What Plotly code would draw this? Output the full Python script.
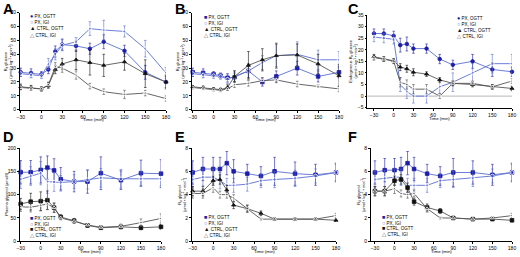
import plotly.graph_objects as go

W, H = 520, 257
time_min = [-30, -15, 0, 10, 20, 30, 50, 70, 90, 120, 150, 180]
x_ticks = [-30, 0, 30, 60, 90, 120, 150, 180]
series_names = ["PX, OGTT", "PX, IGI", "CTRL, OGTT", "CTRL, IGI"]

# Panel A: Ra glucose
a_px_ogtt = [27, 26.5, 25.5, 29, 42, 47, 46, 44, 49, 42.5, 27, 20]
a_px_ogtt_err = [3, 3, 2, 3, 4, 4, 4, 4, 5, 4, 5, 4]
a_px_igi = [26, 25, 24.5, 33, 40, 46.5, 49, 58.5, 57.5, 56.5, 44, 26.5]
a_px_igi_err = [2, 2, 2, 4, 4, 4, 3, 5, 7, 4, 6, 4]
a_ctrl_ogtt = [16.5, 16, 15, 17.5, 29, 33, 36, 34, 32, 34.5, 26, 20]
a_ctrl_ogtt_err = [2, 1.5, 1.5, 2, 3, 4, 7, 9, 8, 6, 10, 5]
a_ctrl_igi = [16, 15.5, 15, 18, 31, 30, 25, 17, 13, 11, 12, 8]
a_ctrl_igi_err = [1.5, 1.5, 1.5, 2, 3, 3, 3, 2, 2, 3, 2, 2]

# Panel B: Rd glucose
b_px_ogtt = [27, 26.5, 25.5, 24.5, 23, 23.5, 28, 20, 24, 30, 24, 27]
b_px_ogtt_err = [3, 3, 2, 2, 3, 3, 5, 3, 4, 5, 4, 4]
b_px_igi = [26, 25, 24.5, 24, 22, 24, 28, 34, 39, 40, 36, 36]
b_px_igi_err = [2, 2, 2, 2, 3, 4, 5, 5, 8, 9, 7, 6]
b_ctrl_ogtt = [16.5, 16, 15, 14.5, 16, 24, 32, 36, 39, 39.5, 33, 24.5]
b_ctrl_ogtt_err = [1, 1, 1, 1, 2, 4, 10, 8, 9, 8, 7, 8]
b_ctrl_igi = [16, 15.5, 14.5, 14, 15, 18, 19, 21, 21.5, 18.5, 17, 15]
b_ctrl_igi_err = [1, 1, 1, 1, 1, 2, 2, 2, 2, 2, 1, 2]

# Panel C: Endogenous Ra glucose
c_px_ogtt = [27, 27, 26, 22, 22.5, 20.5, 20.5, 16, 13.5, 15, 11.5, 10.5]
c_px_ogtt_err = [2, 2, 2, 3, 3, 2, 2, 2, 2, 3, 3, 2]
c_px_igi = [25.5, 25, 24.5, 5, 2, 0, 0, 4, 6, 10, 14, 14]
c_px_igi_err = [2, 2, 2, 3, 3, 3, 3, 3, 4, 4, 4, 4]
c_ctrl_ogtt = [17, 16, 15.2, 12.5, 11.8, 10.3, 9.5, 7, 5.5, 5, 4, 3.3]
c_ctrl_ogtt_err = [1, 1, 1, 1.5, 1.5, 1.5, 1, 1, 1, 1, 1, 1]
c_ctrl_igi = [16.5, 16, 15, 6, 5, 3, 3, 0, 5.5, 5.5, 4, 6.5]
c_ctrl_igi_err = [1, 1, 1, 2, 2, 2, 2, 1, 1, 1, 1, 1]

# Panel D: Plasma glycerol
d_px_ogtt = [148, 148, 153, 158, 152, 133, 128, 128, 146, 131, 146, 145]
d_px_ogtt_err = [25, 25, 28, 25, 25, 25, 22, 25, 35, 20, 28, 30]
d_px_igi = [133, 140, 146, 128, 127, 126, 128, 132, 136, 134, 134, 134]
d_px_igi_err = [20, 20, 25, 25, 20, 15, 15, 20, 20, 20, 15, 15]
d_ctrl_ogtt = [80, 85, 86, 88, 72, 52, 44, 34, 29, 31, 29, 31]
d_ctrl_ogtt_err = [12, 18, 20, 20, 10, 5, 5, 4, 3, 4, 4, 5]
d_ctrl_igi = [74, 73, 77, 80, 72, 50, 43, 35, 30, 32, 40, 49]
d_ctrl_igi_err = [10, 10, 12, 12, 10, 4, 4, 3, 3, 5, 8, 10]

# Panel E: Ra glycerol
e_px_ogtt = [5.9, 6.2, 6.2, 6.2, 6.7, 6.0, 5.8, 5.6, 6.0, 5.8, 5.7, 5.9]
e_px_ogtt_err = [1, 1, 1, 1, 1, 1, 0.8, 0.8, 1.2, 1, 0.9, 0.8]
e_px_igi = [5.3, 5.5, 5.5, 5.2, 4.8, 4.8, 4.9, 5.2, 5.3, 5.4, 5.6, 5.9]
e_px_igi_err = [0.7, 0.7, 0.7, 0.7, 0.6, 0.6, 0.6, 0.6, 0.7, 0.7, 0.6, 0.7]
e_ctrl_ogtt = [4.3, 4.3, 5.2, 5.3, 4.4, 3.1, 2.8, 2.4, 1.9, 1.9, 1.9, 1.8]
e_ctrl_ogtt_err = [0.4, 0.4, 0.4, 0.4, 0.4, 0.3, 0.3, 0.2, 0.1, 0.1, 0.1, 0.1]
e_ctrl_igi = [4.1, 4.1, 4.6, 4.0, 4.0, 3.7, 2.8, 1.9, 1.9, 1.9, 1.9, 2.2]
e_ctrl_igi_err = [0.4, 0.4, 0.4, 0.3, 0.3, 0.3, 0.3, 0.1, 0.1, 0.1, 0.1, 0.2]

# Panel F: Rd glycerol
f_px_ogtt = [5.9, 6.1, 6.1, 6.2, 6.7, 6.2, 5.8, 5.6, 5.9, 5.9, 5.7, 5.9]
f_px_ogtt_err = [1, 1, 1, 1, 1, 1, 0.8, 0.8, 1.2, 1, 0.9, 0.8]
f_px_igi = [5.3, 5.4, 5.5, 5.5, 4.8, 4.8, 4.8, 5.2, 5.3, 5.4, 5.6, 5.9]
f_px_igi_err = [0.7, 0.7, 0.7, 0.7, 0.6, 0.6, 0.6, 0.6, 0.7, 0.7, 0.6, 0.7]
f_ctrl_ogtt = [4.3, 4.3, 5.2, 5.3, 4.6, 3.4, 2.9, 2.6, 2.0, 1.9, 1.9, 1.8]
f_ctrl_ogtt_err = [0.4, 0.4, 0.4, 0.4, 0.4, 0.3, 0.3, 0.2, 0.1, 0.1, 0.1, 0.1]
f_ctrl_igi = [4.3, 4.3, 4.5, 4.1, 4.0, 4.1, 2.8, 2.0, 2.0, 1.9, 2.0, 2.2]
f_ctrl_igi_err = [0.4, 0.4, 0.4, 0.3, 0.3, 0.3, 0.3, 0.1, 0.1, 0.1, 0.1, 0.2]

UNIT = "(µmol • kg<sup>-1</sup> • min<sup>-1</sup>)"

BLUE = "#1c1ca8"
LBLUE = "#5b6fd3"
BLACK = "#111111"
GRAY = "#555555"
styles = [
    dict(color=BLUE, line=LBLUE, open=False),
    dict(color=LBLUE, line=LBLUE, open=True),
    dict(color=BLACK, line=GRAY, open=False),
    dict(color=GRAY, line=GRAY, open=True),
]

# px: pixel positions of the axis domain; xr: x range start; py: y pixel (bottom, top)
panels = [
    dict(letter="A", lpos=(1.5, 0), data=[(a_px_ogtt, a_px_ogtt_err), (a_px_igi, a_px_igi_err), (a_ctrl_ogtt, a_ctrl_ogtt_err), (a_ctrl_igi, a_ctrl_igi_err)],
         yrange=[0, 70], ydtick=10, px=(20, 166), xr=-31, py=(109.7, 12.7), ytitle="R<sub>a</sub> glucose<br>" + UNIT, tx=8.5,
         syms=["circle", "circle-open", "triangle-up", "triangle-up-open"], leg=(29, [15.5, 21.8, 28.2, 34.6]), tdy=10.2),
    dict(letter="B", lpos=(173.5, 0), data=[(b_px_ogtt, b_px_ogtt_err), (b_px_igi, b_px_igi_err), (b_ctrl_ogtt, b_ctrl_ogtt_err), (b_ctrl_igi, b_ctrl_igi_err)],
         yrange=[0, 70], ydtick=10, px=(192, 339), xr=-31, py=(109.7, 12.7), ytitle="R<sub>d</sub> glucose<br>" + UNIT, tx=180.5,
         syms=["square", "circle-open", "triangle-up", "triangle-up-open"], leg=(203, [17.3, 23.3, 29.3, 35.2]), tdy=10.2),
    dict(letter="C", lpos=(346.5, 0), data=[(c_px_ogtt, c_px_ogtt_err), (c_px_igi, c_px_igi_err), (c_ctrl_ogtt, c_ctrl_ogtt_err), (c_ctrl_igi, c_ctrl_igi_err)],
         yrange=[-5, 35], ydtick=5, px=(367.4, 512), xr=-40, py=(107.7, 15), ytitle="Endogenous R<sub>a</sub> glucose<br>" + UNIT, tx=353.5,
         syms=["circle", "circle-open", "triangle-up", "triangle-up-open"], leg=(456, [18.3, 24.0, 29.8, 35.6]), zero=True, tdy=11.2),
    dict(letter="D", lpos=(1.5, 128), data=[(d_px_ogtt, d_px_ogtt_err), (d_px_igi, d_px_igi_err), (d_ctrl_ogtt, d_ctrl_ogtt_err), (d_ctrl_igi, d_ctrl_igi_err)],
         yrange=[0, 200], ydtick=50, px=(20, 161), xr=-31, py=(241.3, 148), ytitle="Plasma glycerol (µmol/l)", tx=7,
         syms=["square", "circle-open", "square", "triangle-up-open"], leg=(29, [218, 223.5, 229, 234.5]), tdy=10.6),
    dict(letter="E", lpos=(173.5, 128), data=[(e_px_ogtt, e_px_ogtt_err), (e_px_igi, e_px_igi_err), (e_ctrl_ogtt, e_ctrl_ogtt_err), (e_ctrl_igi, e_ctrl_igi_err)],
         yrange=[0, 8], ydtick=2, px=(192, 336), xr=-31, py=(241.3, 148), ytitle="R<sub>a</sub> glycerol<br>" + UNIT, tx=181.5,
         syms=["square", "circle-open", "triangle-up", "triangle-up-open"], leg=(203, [217.3, 223, 228.7, 234.5]), tdy=10.6),
    dict(letter="F", lpos=(346.5, 128), data=[(f_px_ogtt, f_px_ogtt_err), (f_px_igi, f_px_igi_err), (f_ctrl_ogtt, f_ctrl_ogtt_err), (f_ctrl_igi, f_ctrl_igi_err)],
         yrange=[0, 8], ydtick=2, px=(371, 512), xr=-36, py=(241.3, 148), ytitle="R<sub>d</sub> glycerol<br>" + UNIT, tx=360.5,
         syms=["square", "circle-open", "square", "triangle-up-open"], leg=(381, [217, 222.5, 228, 233.6]), tdy=10.6),
]

glyph = {"circle": "●", "circle-open": "○", "triangle-up": "▲", "triangle-up-open": "△", "square": "■"}

fig = go.Figure()
FONT = "Arial, Liberation Sans, DejaVu Sans, sans-serif"
annotations = []
shapes = []

for i, p in enumerate(panels):
    n = "" if i == 0 else str(i + 1)
    xa, ya = "x" + n, "y" + n
    for k, ((vals, errs), st, sym) in enumerate(zip(p["data"], styles, p["syms"])):
        fig.add_trace(go.Scatter(
            x=time_min, y=vals, xaxis=xa, yaxis=ya, mode="lines+markers",
            name=series_names[k], showlegend=False, cliponaxis=False,
            line=dict(color=st["line"], width=0.9),
            marker=dict(symbol=sym, size=3.6, color="white" if st["open"] else st["color"],
                        line=dict(color=st["color"], width=0.8)),
            error_y=dict(type="data", array=errs, visible=True, color=st["color"], thickness=0.6, width=1.3),
        ))
    x0, x1 = p["px"]
    yb, yt = p["py"]
    xd = [x0 / W, x1 / W]
    yd = [1 - yb / H, 1 - yt / H]
    axis_common = dict(showgrid=False, zeroline=False, showline=True, linecolor="black", linewidth=0.8,
                       ticks="outside", ticklen=2, tickwidth=0.7, tickcolor="black", automargin=False,
                       tickfont=dict(size=5, family=FONT, color="black"))
    fig.update_layout(**{
        ("xaxis" + n): dict(domain=xd, range=[p["xr"], 180], tickvals=x_ticks, anchor=ya, **axis_common),
        ("yaxis" + n): dict(domain=yd, range=p["yrange"], dtick=p["ydtick"], anchor=xa, **axis_common),
    })
    # x-axis title
    annotations.append(dict(text="Time (min)", x=(x0 + x1) / 2 / W, y=1 - (yb + p["tdy"]) / H, xref="paper", yref="paper",
                            showarrow=False, font=dict(size=4.4, family=FONT, color="black"), borderpad=0,
                            xanchor="center", yanchor="middle"))
    # y-axis title
    annotations.append(dict(text=p["ytitle"], x=p["tx"] / W, y=1 - (yb + yt) / 2 / H, xref="paper", yref="paper",
                            textangle=-90, showarrow=False, font=dict(size=4, family=FONT, color="black"), borderpad=0,
                            xanchor="center", yanchor="middle"))
    # panel letter
    lx, ly = p["lpos"]
    annotations.append(dict(text="<b>" + p["letter"] + "</b>", x=lx / W, y=1 - ly / H, borderpad=0,
                            xref="paper", yref="paper", showarrow=False, xanchor="left", yanchor="top",
                            font=dict(size=14.5, family=FONT, color="black")))
    # legend
    gx, gys = p["leg"]
    for k, gy in enumerate(gys):
        st = styles[k]
        annotations.append(dict(
            text="<span style='color:%s;font-size:5.5px'>%s</span> %s" % (st["color"], glyph[p["syms"][k]], series_names[k]),
            x=gx / W, y=1 - gy / H, xref="paper", yref="paper", showarrow=False, xanchor="left", yanchor="middle",
            borderpad=0, font=dict(size=4.5, family=FONT, color="black")))
    if p.get("zero"):
        shapes.append(dict(type="line", xref=xa + " domain", yref=ya, x0=0, x1=1, y0=0, y1=0,
                           line=dict(color="#999999", width=0.7), layer="below"))

fig.update_layout(width=W, height=H, margin=dict(l=0, r=0, t=0, b=0, autoexpand=False), plot_bgcolor="white",
                  paper_bgcolor="white", annotations=annotations, shapes=shapes, showlegend=False)
fig.write_html("out.html", config={"displayModeBar": False},
               post_script="document.body.style.margin='0';document.body.style.padding='0';")
